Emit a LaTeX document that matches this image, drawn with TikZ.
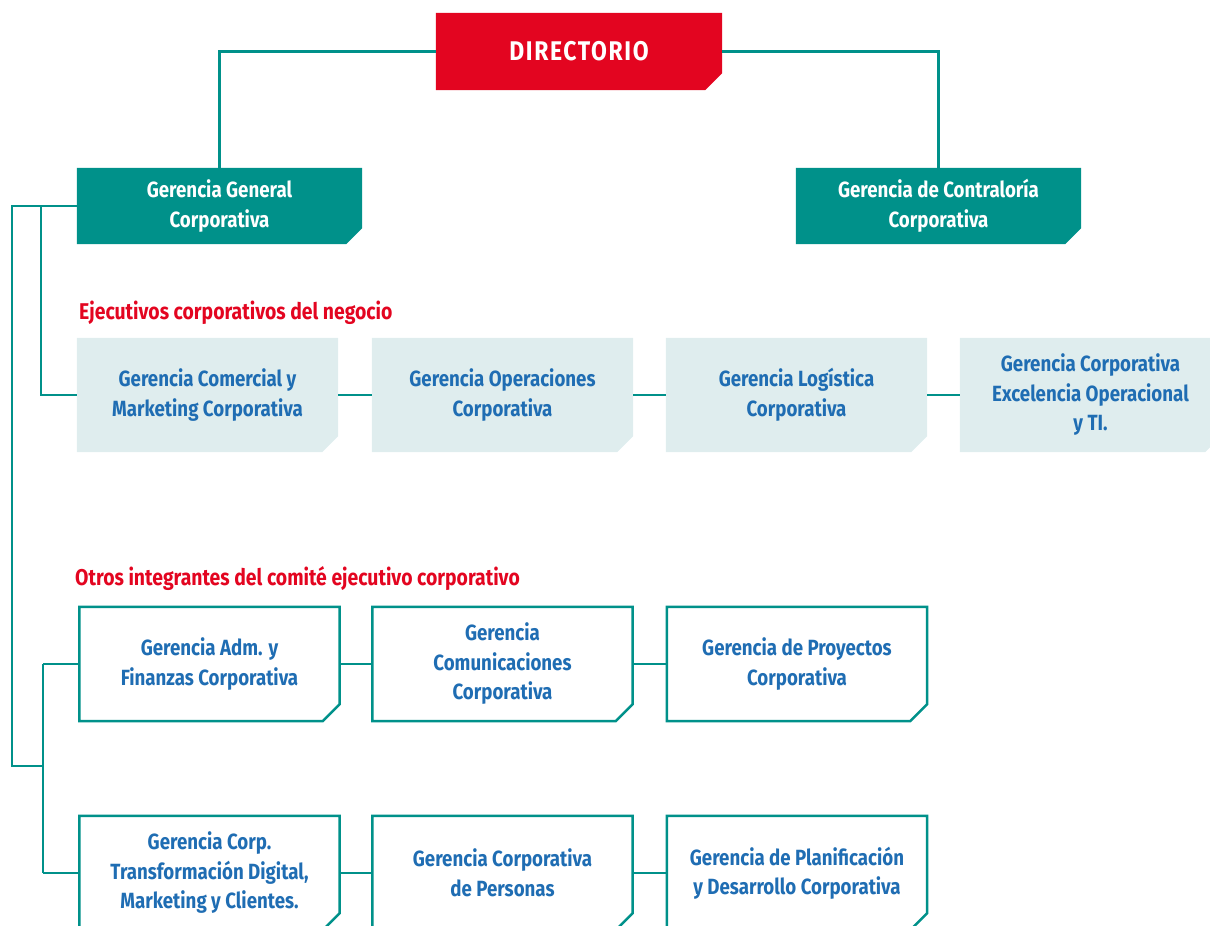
\documentclass[tikz,border=0pt]{standalone}
\usepackage{fontspec}
\setmainfont{Fira Sans}[FakeStretch=0.85]
\usetikzlibrary{backgrounds}
\definecolor{teal1}{HTML}{00918A}
\definecolor{red1}{HTML}{E30520}
\definecolor{light1}{HTML}{DFEDEE}
\definecolor{blue1}{HTML}{1F6DB3}
\tikzset{
  base/.style={inner sep=0pt, align=center, font=\fontsize{22}{29.5}\selectfont\bfseries},
  topbox/.style={base, text=white, minimum width=285, minimum height=76},
  lightbox/.style={base, text=blue1, minimum width=261, minimum height=114},
  linebox/.style={base, text=blue1, minimum width=260, minimum height=114},
  conn/.style={draw=teal1, line width=2.5pt},
  lbl/.style={anchor=west, inner sep=0pt, text=red1, font=\fontsize{22.8}{24}\selectfont\bfseries},
}
\newcommand\cutpath[2]{(#1.north west) -- (#1.north east) -- ([yshift=#2]#1.south east) -- ([xshift=-#2]#1.south east) -- (#1.south west) -- cycle}
\begin{document}
\begin{tikzpicture}[x=1pt,y=-1pt]
\useasboundingbox (0,0) rectangle (1210,926);
\clip (0,0) rectangle (1210,926);
% top
\node[base, text=white, minimum width=286, minimum height=77, font=\fontsize{27}{30}\selectfont\bfseries\addfontfeature{LetterSpace=6}] (dir) at (579,51.5) {DIRECTORIO};
\node[topbox] (gg) at (219.5,206) {Gerencia General\\Corporativa};
\node[topbox] (gc) at (938.5,206) {Gerencia de Contralor\'ia\\Corporativa};
% labels
\node[lbl] (l1) at (79,313) {Ejecutivos corporativos del negocio};
\node[lbl] (l2) at (75,579) {Otros integrantes del comit\'e ejecutivo corporativo};
% row 1
\node[lightbox] (a1) at (207.5,395) {Gerencia Comercial y\\Marketing Corporativa};
\node[lightbox] (a2) at (502.5,395) {Gerencia Operaciones\\Corporativa};
\node[lightbox] (a3) at (796.5,395) {Gerencia Log\'istica\\Corporativa};
\node[lightbox] (a4) at (1090.5,395) {Gerencia Corporativa\\Excelencia Operacional\\y TI.};
% row 2
\node[linebox] (b1) at (209.5,664) {Gerencia Adm. y\\Finanzas Corporativa};
\node[linebox] (b2) at (502.5,664) {Gerencia\\Comunicaciones\\Corporativa};
\node[linebox] (b3) at (797,664) {Gerencia de Proyectos\\Corporativa};
% row 3
\node[linebox] (c1) at (209.5,873) {Gerencia Corp.\\Transformaci\'on Digital,\\Marketing y Clientes.};
\node[linebox] (c2) at (502.5,873) {Gerencia Corporativa\\de Personas};
\node[linebox] (c3) at (797,873) {Gerencia de Planificaci\'on\\y Desarrollo Corporativa};
% tree coordinates
\coordinate (p0) at (12,206);
\coordinate (p1) at (41,206);
\coordinate (p2) at (12,766);
\coordinate (p3) at (43,766);
\begin{scope}[on background layer]
  \fill[red1] \cutpath{dir}{17pt};
  \fill[teal1] \cutpath{gg}{16pt};
  \fill[teal1] \cutpath{gc}{16pt};
  \foreach \n in {a1,a2,a3,a4} \fill[light1] \cutpath{\n}{16pt};
  \foreach \n in {b1,b2,b3,c1,c2,c3} \draw[teal1, line width=2.5pt, fill=white] \cutpath{\n}{17pt};
  % connectors
  \draw[conn] (dir.west) -| (gg.north);
  \draw[conn] (dir.east) -| (gc.north);
  \draw[conn] (gg.west) -- (p0) -- (p2) -- (p3);
  \draw[conn] (p1) |- (a1.west);
  \draw[conn] (b1.west -| p3) -- (c1.west -| p3);
  \draw[conn] (b1.west -| p3) -- (b1.west);
  \draw[conn] (c1.west -| p3) -- (c1.west);
  \draw[conn] (a1) -- (a2); \draw[conn] (a2) -- (a3); \draw[conn] (a3) -- (a4);
  \draw[conn] (b1) -- (b2); \draw[conn] (b2) -- (b3);
  \draw[conn] (c1) -- (c2); \draw[conn] (c2) -- (c3);
\end{scope}
\end{tikzpicture}
\end{document}
